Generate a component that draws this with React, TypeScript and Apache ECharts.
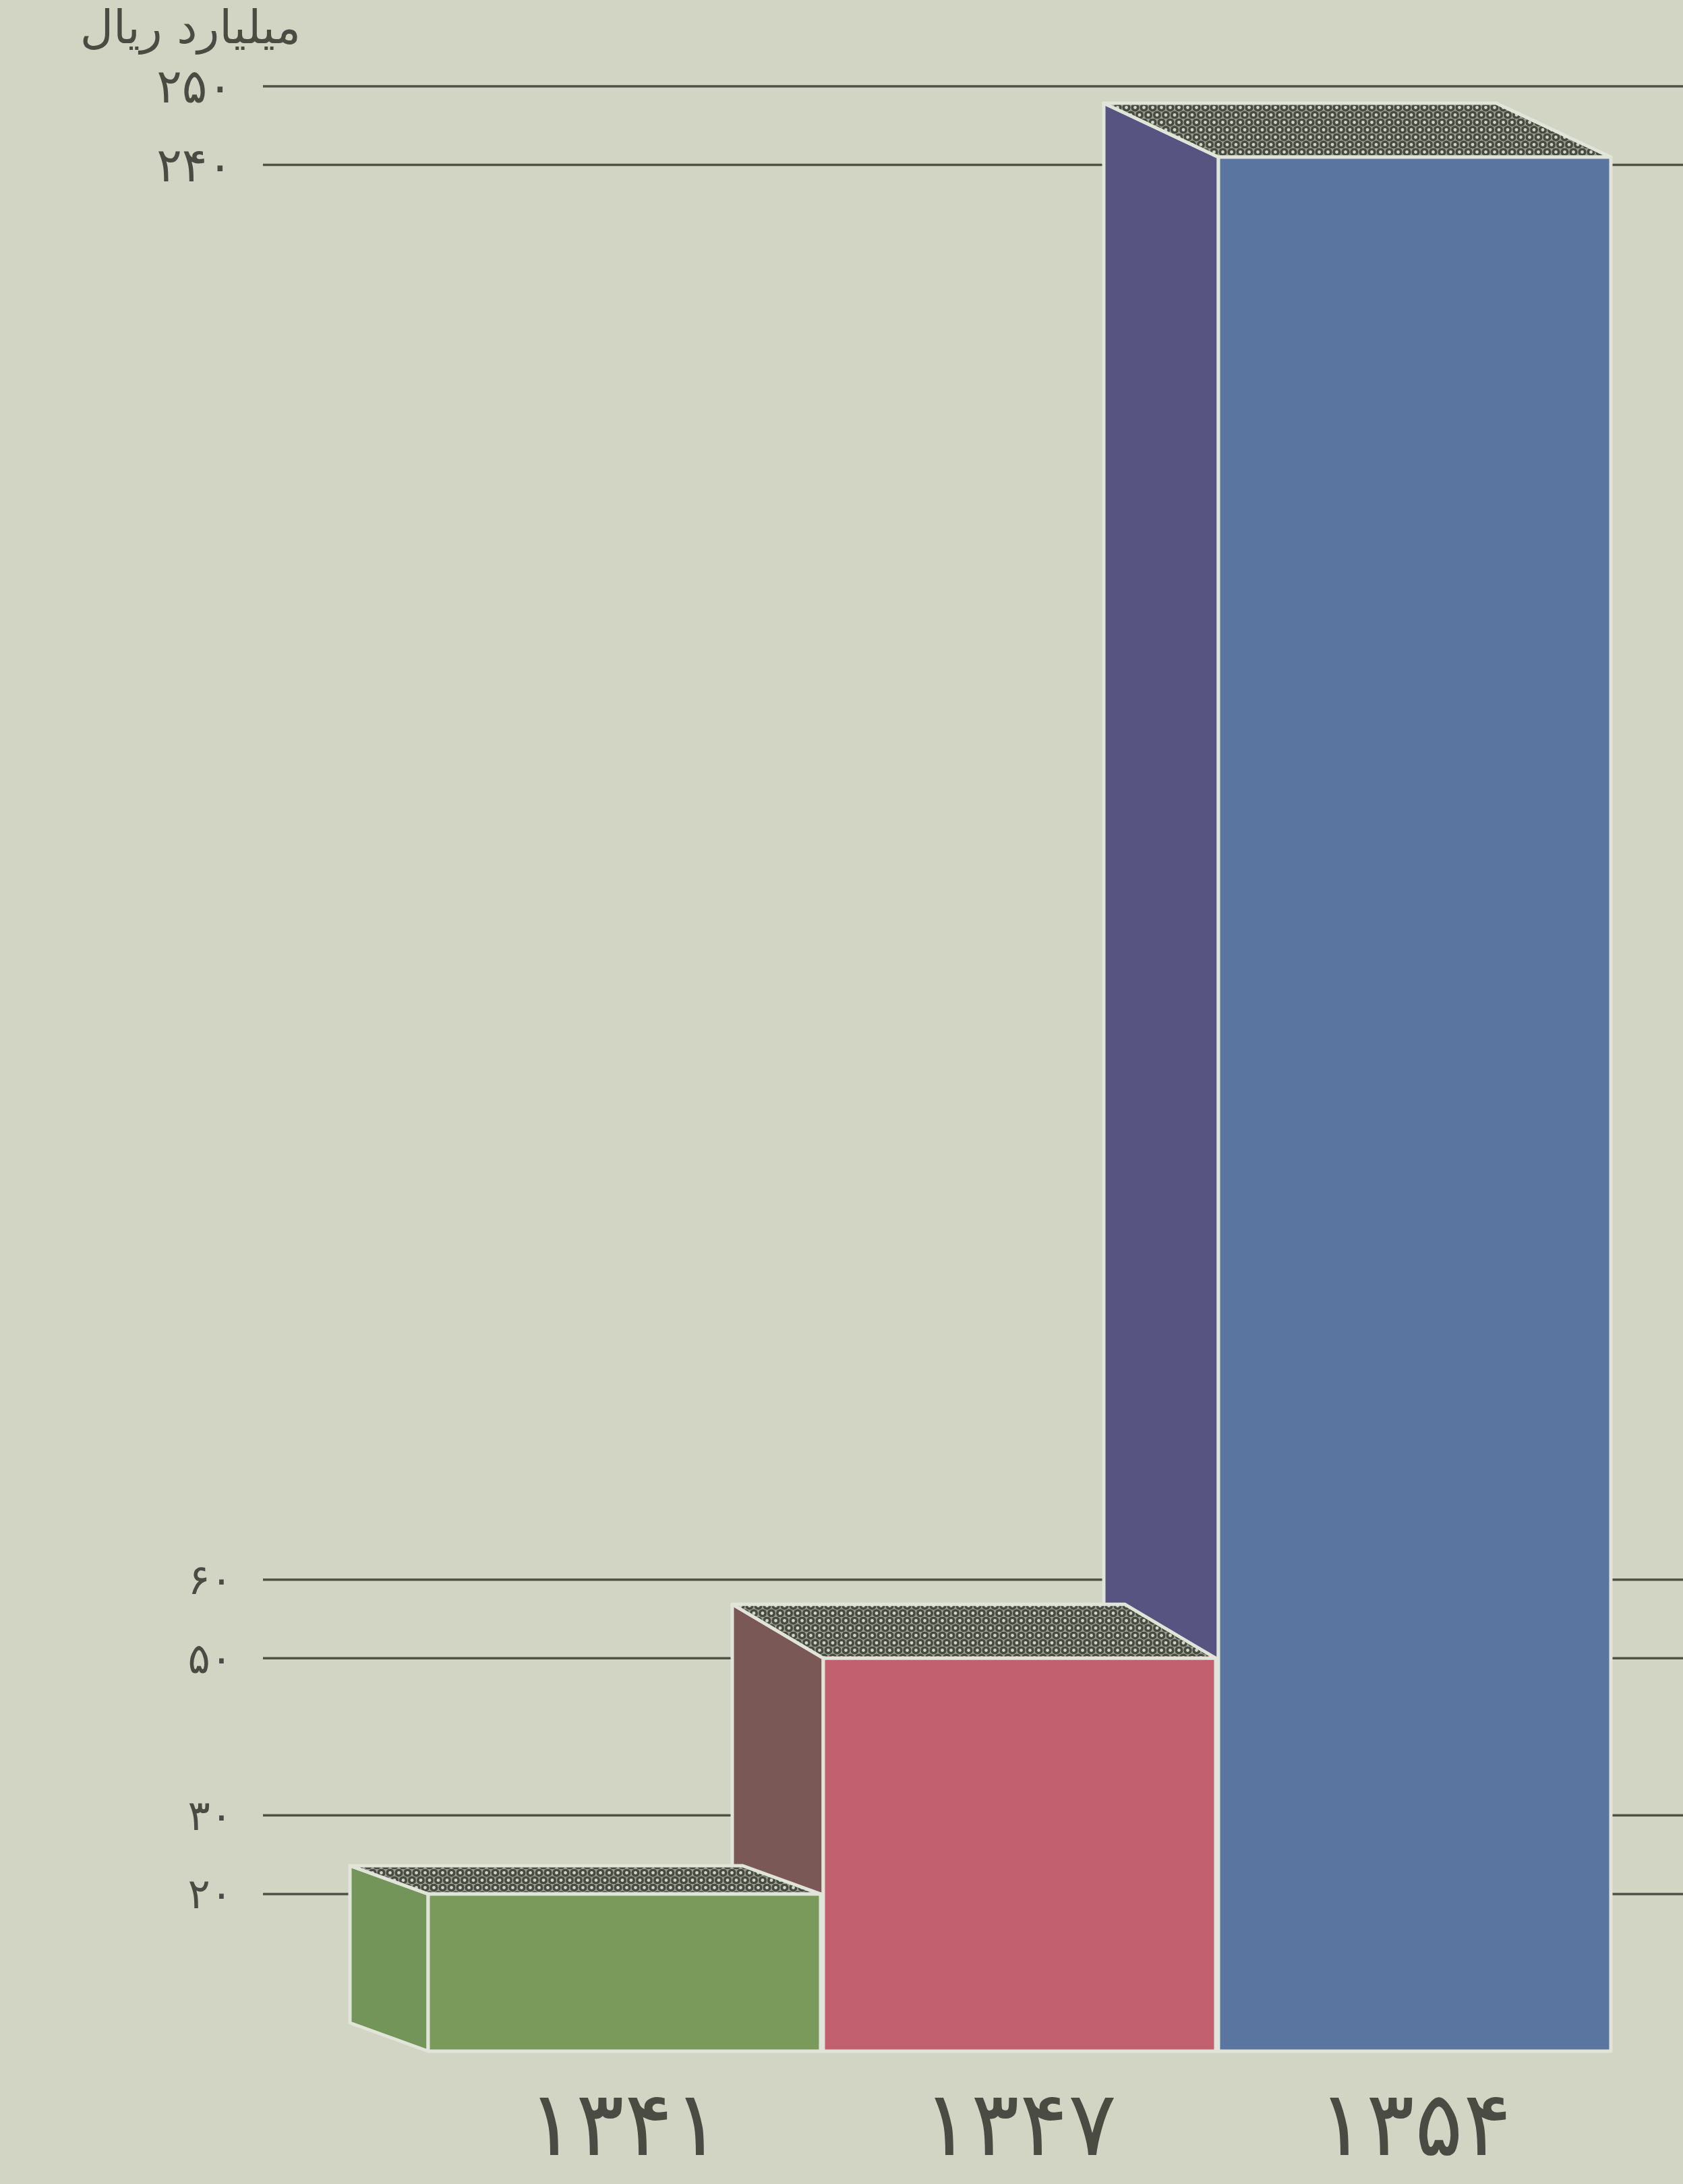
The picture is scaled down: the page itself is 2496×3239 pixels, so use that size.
import React, { useEffect, useRef } from 'react';
import * as echarts from 'echarts';

// ---- data ----
const CATEGORIES = ['۱۳۴۱', '۱۳۴۷', '۱۳۵۴'];
const VALUES = [20, 50, 241];
const TICK_VALUES = [20, 30, 50, 60, 240, 250];
const TICK_LABELS = ['۲۰', '۳۰', '۵۰', '۶۰', '۲۴۰', '۲۵۰'];
const UNIT_LABEL = 'میلیارد ریال';

// ---- style ----
const PAPER = '#d2d4c4';
const INK = '#4a4b42';
const FRONT_COLORS = ['#7a9a5b', '#c2606f', '#5b75a1'];
const SIDE_COLORS = ['#74955a', '#7a5856', '#575481'];
const DEPTH: [number, number][] = [[116, 42], [135, 80], [170, 80]];
const LINE_X0 = 390;
const W = 2496;
const H = 3239;

function makeDots(): string {
  const c = document.createElement('canvas');
  c.width = 13;
  c.height = 22;
  const g = c.getContext('2d')!;
  g.fillStyle = '#9a9f90';
  g.fillRect(0, 0, 13, 22);
  const pts = [[6.5, 5.5], [0, 16.5], [13, 16.5]];
  for (const [x, y] of pts) {
    g.fillStyle = '#474a40';
    g.beginPath();
    g.arc(x, y, 6, 0, Math.PI * 2);
    g.fill();
  }
  for (const [x, y] of pts) {
    g.fillStyle = '#cfd5c6';
    g.beginPath();
    g.arc(x, y, 2.4, 0, Math.PI * 2);
    g.fill();
  }
  return c.toDataURL();
}

export default function App() {
  const ref = useRef<HTMLDivElement>(null);

  useEffect(() => {
    document.body.style.margin = '0';
    const chart = echarts.init(ref.current!, undefined, { renderer: 'svg' });
    const dots = { image: makeDots(), repeat: 'repeat', imageWidth: 13, imageHeight: 22 };
    const edge = { stroke: '#e1e4d9', lineWidth: 5, lineJoin: 'round' };

    chart.setOption({
      animation: false,
      backgroundColor: PAPER,
      grid: { left: 633, right: 105, top: 128, bottom: 197, outerBoundsMode: 'none' },
      graphic: [
        {
          type: 'text',
          style: {
            text: UNIT_LABEL,
            x: 446,
            y: 6,
            align: 'right',
            verticalAlign: 'top',
            fontSize: 68,
            fontFamily: 'DejaVu Sans',
            fill: INK,
          },
        },
      ],
      xAxis: {
        type: 'category',
        data: CATEGORIES,
        axisLine: { show: false },
        axisTick: { show: false },
        splitLine: { show: false },
        axisLabel: {
          margin: 108,
          verticalAlign: 'middle',
          fontSize: 134,
          fontFamily: 'DejaVu Sans',
          color: INK,
        },
      },
      yAxis: {
        type: 'value',
        min: 0,
        max: 250,
        interval: 10,
        axisLine: { show: false },
        axisTick: { show: false },
        splitLine: { show: false },
        axisLabel: {
          margin: 288,
          formatter: (v: number) => {
            const k = TICK_VALUES.indexOf(v);
            if (k < 0) return '';
            return v >= 200 ? `{a|${TICK_LABELS[k]}}` : `{b|${TICK_LABELS[k]}}`;
          },
          rich: {
            a: { fontSize: 70, fontFamily: 'DejaVu Sans', color: INK },
            b: { fontSize: 62, fontFamily: 'DejaVu Sans', color: INK },
          },
        },
      },
      series: [
        {
          type: 'custom',
          z: 1,
          data: TICK_VALUES.map((v) => [0, v]),
          encode: { x: 0, y: 1 },
          renderItem: (params: any, api: any) => {
            const y = api.coord([0, api.value(1)])[1];
            return {
              type: 'line',
              shape: { x1: LINE_X0, y1: y, x2: W, y2: y },
              style: { stroke: '#4f5147', lineWidth: 3.5 },
            };
          },
        },
        {
          type: 'custom',
          z: 2,
          data: CATEGORIES.map((c, i) => [i, VALUES[i]]),
          encode: { x: 0, y: 1 },
          renderItem: (params: any, api: any) => {
            const i = params.dataIndex;
            const top = api.coord([api.value(0), api.value(1)]);
            const base = api.coord([api.value(0), 0]);
            const band = api.size([1, 0])[0];
            const w = band - 4;
            const x0 = top[0] - w / 2;
            const x1 = top[0] + w / 2;
            const [dx, dy] = DEPTH[i];
            const yT = top[1];
            const yB = base[1];
            const z = (CATEGORIES.length - i) * 10;
            return {
              type: 'group',
              children: [
                {
                  type: 'polygon',
                  z2: z,
                  shape: { points: [[x0, yT], [x0 - dx, yT - dy], [x0 - dx, yB - dy], [x0, yB]] },
                  style: { fill: SIDE_COLORS[i], ...edge },
                },
                {
                  type: 'polygon',
                  z2: z + 1,
                  shape: { points: [[x0, yT], [x1, yT], [x1 - dx, yT - dy], [x0 - dx, yT - dy]] },
                  style: { fill: dots, ...edge },
                },
                {
                  type: 'rect',
                  z2: z + 2,
                  shape: { x: x0, y: yT, width: w, height: yB - yT },
                  style: { fill: FRONT_COLORS[i], ...edge },
                },
              ],
            };
          },
        },
      ],
    });

    return () => chart.dispose();
  }, []);

  return (
    <div
      ref={ref}
      style={{ position: 'absolute', left: 0, top: 0, width: W, height: H }}
    />
  );
}
